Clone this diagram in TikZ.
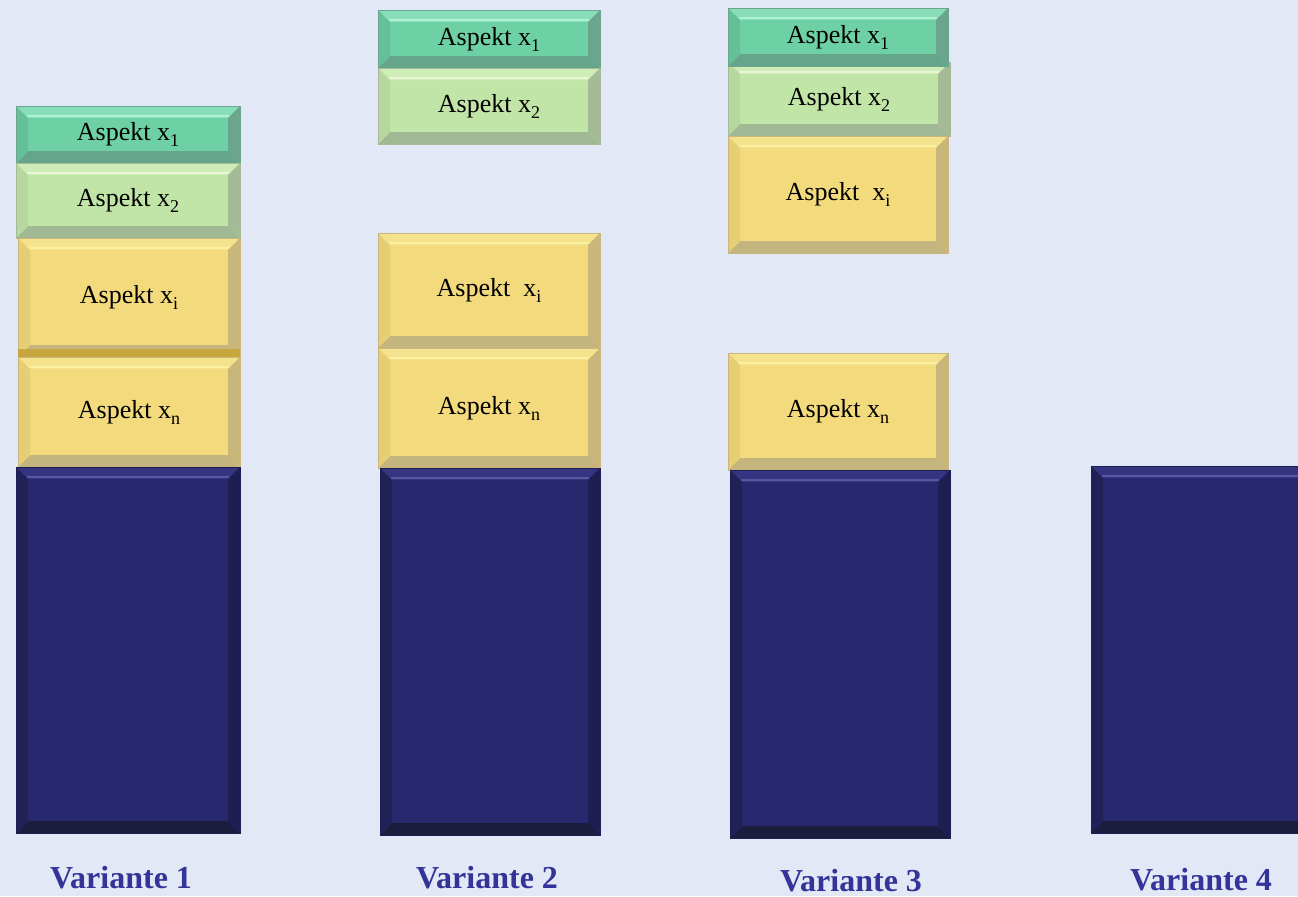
\documentclass[tikz,border=0pt]{standalone}
\usepackage{fontspec}
\setmainfont{Liberation Serif}
\definecolor{bgc}{RGB}{226,232,245}
\definecolor{labC}{RGB}{51,51,153}
% teal
\definecolor{tealB}{RGB}{110,208,165}
\definecolor{tealT}{RGB}{135,222,184}
\definecolor{tealBo}{RGB}{100,165,140}
\definecolor{tealR}{RGB}{108,165,142}
\definecolor{tealL}{RGB}{100,192,152}
\definecolor{tealH}{RGB}{175,242,212}
% light green
\definecolor{lgB}{RGB}{193,228,167}
\definecolor{lgT}{RGB}{205,236,182}
\definecolor{lgBo}{RGB}{160,185,148}
\definecolor{lgR}{RGB}{165,187,152}
\definecolor{lgL}{RGB}{182,216,158}
\definecolor{lgH}{RGB}{236,246,214}
% yellow
\definecolor{yeB}{RGB}{242,218,125}
\definecolor{yeT}{RGB}{245,226,140}
\definecolor{yeBo}{RGB}{196,180,126}
\definecolor{yeR}{RGB}{200,182,122}
\definecolor{yeL}{RGB}{230,206,116}
\definecolor{yeH}{RGB}{250,240,160}
\definecolor{yeD}{RGB}{200,166,62}
% navy
\definecolor{nvB}{RGB}{40,40,110}
\definecolor{nvT}{RGB}{52,52,128}
\definecolor{nvBo}{RGB}{28,28,62}
\definecolor{nvR}{RGB}{30,30,82}
\definecolor{nvL}{RGB}{33,33,88}
\definecolor{nvH}{RGB}{88,88,160}
\tikzset{
  blk/.style n args={6}{fill=#1, draw=#4, line width=0.3pt, inner sep=0pt, outer sep=0pt,
    font=\fontsize{13}{15}\selectfont, text=black,
    path picture={
      \path (path picture bounding box.north west) coordinate (pNW)
            (path picture bounding box.north east) coordinate (pNE)
            (path picture bounding box.south west) coordinate (pSW)
            (path picture bounding box.south east) coordinate (pSE);
      \fill[#2] (pNW) -- (pNE) -- ([shift={(-6pt,-6pt)}]pNE) -- ([shift={(6pt,-6pt)}]pNW) -- cycle;
      \fill[#3] (pSW) -- (pSE) -- ([shift={(-6pt,6pt)}]pSE) -- ([shift={(6pt,6pt)}]pSW) -- cycle;
      \fill[#4] (pNE) -- (pSE) -- ([shift={(-6pt,6pt)}]pSE) -- ([shift={(-6pt,-6pt)}]pNE) -- cycle;
      \fill[#5] (pNW) -- (pSW) -- ([shift={(6pt,6pt)}]pSW) -- ([shift={(6pt,-6pt)}]pNW) -- cycle;
      \draw[#6, line width=1.1pt] ([shift={(5.5pt,-4.8pt)}]pNW) -- ([shift={(-5.5pt,-4.8pt)}]pNE);
    }},
  tealbox/.style={blk={tealB}{tealT}{tealBo}{tealR}{tealL}{tealH}},
  lgbox/.style={blk={lgB}{lgT}{lgBo}{lgR}{lgL}{lgH}},
  yebox/.style={blk={yeB}{yeT}{yeBo}{yeR}{yeL}{yeH}},
  nvbox/.style={blk={nvB}{nvT}{nvBo}{nvR}{nvL}{nvH}},
  lab/.style={font=\bfseries\fontsize{16}{19}\selectfont, text=labC, inner sep=0pt}
}
\newcommand\blkat[6]{\node[#6, minimum width={(#4-#2)*0.5pt}, minimum height={(#5-#3)*0.5pt}] (#1) at ({(#2+#4)/2},{(#3+#5)/2})}
\newcommand\sbx[1]{\raisebox{-3pt}{\fontsize{9}{9}\selectfont #1}}
\begin{document}
\begin{tikzpicture}[x=0.5pt,y=-0.5pt]
\fill[bgc] (0,0) rectangle (1298,896);
\useasboundingbox (0,0) rectangle (1298,896);
\clip (0,0) rectangle (1298,896);
% Column 1
\blkat{a1}{16}{106}{240}{163}{tealbox} {Aspekt x\sbx{1}};
\blkat{a2}{16}{163}{240}{238}{lgbox} {Aspekt x\sbx{2}};
\blkat{ai}{18}{238}{240}{357}{yebox} {Aspekt x\sbx{i}};
\fill[yeD] (ai.south west) rectangle ([yshift=4pt]ai.south east);
\blkat{an}{18}{357}{240}{467}{yebox} {Aspekt x\sbx{n}};
\blkat{ab}{16}{467}{240}{833}{nvbox} {};
% Column 2
\blkat{b1}{378}{10}{600}{68}{tealbox} {Aspekt x\sbx{1}};
\blkat{b2}{378}{68}{600}{144}{lgbox} {Aspekt x\sbx{2}};
\blkat{bi}{378}{233}{600}{348}{yebox} {Aspekt\hspace{0.5em}x\sbx{i}};
\blkat{bn}{378}{348}{600}{468}{yebox} {Aspekt x\sbx{n}};
\blkat{bb}{380}{468}{600}{835}{nvbox} {};
% Column 3
\blkat{c2}{728}{62}{950}{136}{lgbox} {Aspekt x\sbx{2}};
\blkat{c1}{728}{8}{948}{66}{tealbox} {Aspekt x\sbx{1}};
\blkat{ci}{728}{136}{948}{253}{yebox} {Aspekt\hspace{0.5em}x\sbx{i}};
\blkat{cn}{728}{353}{948}{470}{yebox} {Aspekt x\sbx{n}};
\blkat{cb}{730}{470}{950}{838}{nvbox} {};
% Column 4
\blkat{db}{1091}{466}{1312}{833}{nvbox} {};
% Labels
\node[lab] (v1) at (121,878) {Variante 1};
\node[lab] (v2) at (487,878) {Variante 2};
\node[lab] (v3) at (851,881) {Variante 3};
\node[lab] (v4) at (1201,880) {Variante 4};
\end{tikzpicture}
\end{document}
